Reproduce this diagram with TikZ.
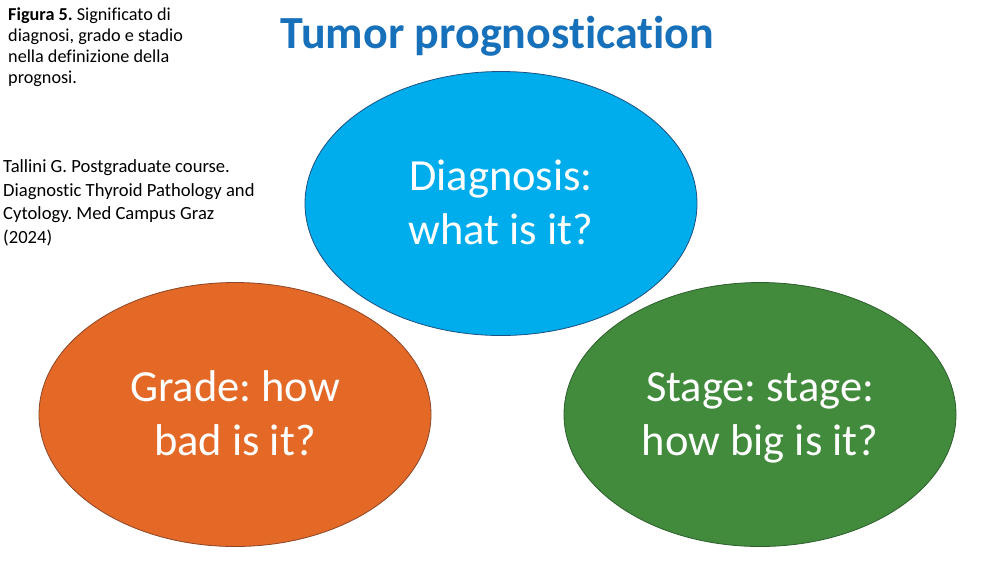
\documentclass[tikz,border=0pt]{standalone}
\usepackage{fontspec}
\setmainfont{Carlito}[Ligatures=NoCommon]
\usetikzlibrary{shapes.geometric}
\definecolor{titleblue}{RGB}{22,112,186}
\definecolor{dfill}{RGB}{0,173,236}
\definecolor{ddraw}{RGB}{30,80,130}
\definecolor{gfill}{RGB}{228,104,38}
\definecolor{gdraw}{RGB}{140,70,40}
\definecolor{sfill}{RGB}{66,138,60}
\definecolor{sdraw}{RGB}{45,95,45}
\tikzset{
  blob/.style={ellipse, minimum width=392pt, minimum height=264pt, inner sep=0pt,
    line width=0.8pt, text=white, align=center,
    font=\fontsize{44.5}{54}\selectfont},
  smalltext/.style={anchor=north west, inner sep=0pt, align=left, text=black},
}
\newcommand{\topstrut}{\rule{0pt}{40pt}}
\newcommand{\botstrut}{\rule[-12pt]{0pt}{12pt}}
\frenchspacing
\begin{document}
\begin{tikzpicture}[x=1pt,y=-1pt]
\useasboundingbox (0,0) rectangle (1000,563);
\fill[white] (0,0) rectangle (1000,563);
\node[anchor=base, inner sep=0pt, text=titleblue, font=\fontsize{46}{50}\selectfont\bfseries] (title) at (497.5,48) {Tumor prognostication};
\node[smalltext, font=\fontsize{18.2}{21}\selectfont] (caption) at (8,5.5) {\rule{0pt}{15pt}\textbf{Figura 5.} Significato di\\diagnosi, grado e stadio\\nella definizione della\\prognosi.};
\node[smalltext, font=\fontsize{18.6}{23.5}\selectfont] (source) at (3,156.7) {\rule{0pt}{16pt}Tallini G. Postgraduate course.\\Diagnostic Thyroid Pathology and\\Cytology. Med Campus Graz\\(2024)};
\node[blob, fill=gfill, draw=gdraw] (grade) at (235,414.5) {\topstrut Grade: how\\bad is it?\botstrut};
\node[blob, fill=sfill, draw=sdraw] (stage) at (760,414.5) {\topstrut Stage: stage:\\how big is it?\botstrut};
\node[blob, fill=dfill, draw=ddraw] (diag) at (501,203.5) {\topstrut Diagnosis:\\what is it?\botstrut};
\end{tikzpicture}
\end{document}
